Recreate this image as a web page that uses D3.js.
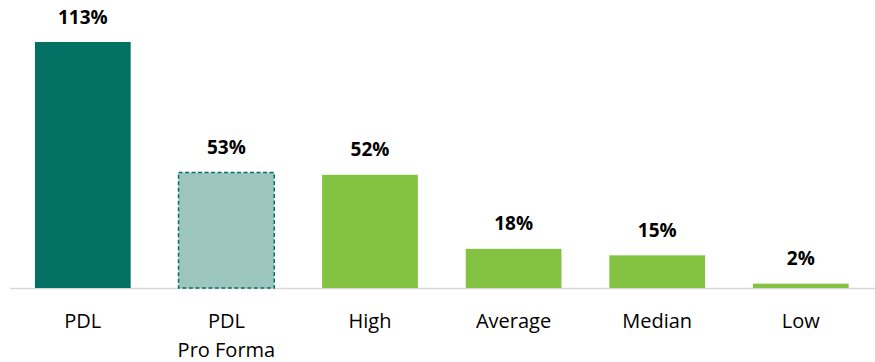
<!DOCTYPE html>
<html>
<head>
<meta charset="utf-8">
<script src="https://cdn.jsdelivr.net/npm/d3@7"></script>
<style>
  body { margin: 0; background: #fff; }
  text { font-family: "Open Sans", Lato, sans-serif; }
</style>
</head>
<body>
<div id="chart"></div>
<script>
const categories = ['PDL', 'PDL\nPro Forma', 'High', 'Average', 'Median', 'Low'];
const values     = [113, 53, 52, 18, 15, 2];
const fills      = ['#046F63', '#9DC6C1', '#84C241', '#84C241', '#84C241', '#84C241'];

const width  = 875;
const height = 362;
const baseY  = 288;

const svg = d3.select('#chart').append('svg')
    .attr('width', width)
    .attr('height', height);

const x = d3.scaleBand()
    .domain(categories)
    .range([11, 872.6])
    .paddingInner(1 / 3)
    .paddingOuter(1 / 6);

const y = d3.scaleLinear()
    .domain([0, 113])
    .range([baseY, 42]);

const data = categories.map((c, i) => ({ cat: c, value: values[i], fill: fills[i], i: i }));

// axis line
svg.append('line')
    .attr('x1', 10).attr('x2', width)
    .attr('y1', baseY + 0.5).attr('y2', baseY + 0.5)
    .attr('stroke', '#d9d9d9')
    .attr('stroke-width', 1.5);

svg.selectAll('.bar')
    .data(data)
  .enter().append('rect')
    .attr('class', 'bar')
    .attr('x', d => x(d.cat))
    .attr('y', d => y(d.value))
    .attr('width', x.bandwidth())
    .attr('height', d => baseY - y(d.value))
    .attr('fill', d => d.fill)
    .attr('stroke', d => d.i === 1 ? '#046F63' : 'none')
    .attr('stroke-width', 1.5)
    .attr('stroke-dasharray', d => d.i === 1 ? '4,2.5' : null);

svg.selectAll('.val')
    .data(data)
  .enter().append('text')
    .attr('class', 'val')
    .attr('x', d => x(d.cat) + x.bandwidth() / 2)
    .attr('y', d => y(d.value) - 18.5)
    .attr('text-anchor', 'middle')
    .attr('font-size', 19)
    .attr('font-weight', 'bold')
    .attr('fill', '#000')
    .text(d => d.value + '%');

const labels = svg.selectAll('.cat')
    .data(data)
  .enter().append('text')
    .attr('class', 'cat')
    .attr('text-anchor', 'middle')
    .attr('font-size', 20)
    .attr('fill', '#000');

labels.selectAll('tspan')
    .data(d => d.cat.split('\n').map(s => ({ s: s, cx: x(d.cat) + x.bandwidth() / 2 })))
  .enter().append('tspan')
    .attr('x', d => d.cx)
    .attr('y', (d, j) => 327.5 + j * 29)
    .text(d => d.s);
</script>
</body>
</html>
